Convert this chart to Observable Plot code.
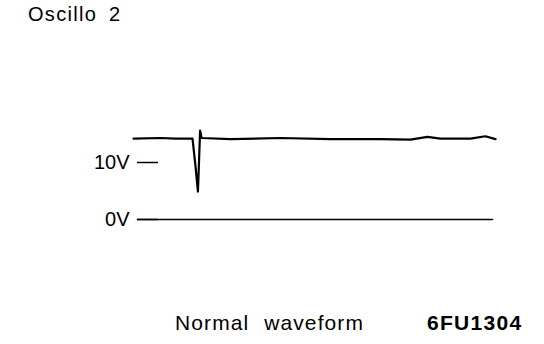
<!DOCTYPE html>
<html>
<head>
<meta charset="utf-8">
<script src="https://cdn.jsdelivr.net/npm/d3@7"></script>
<script src="https://cdn.jsdelivr.net/npm/@observablehq/plot@0.6"></script>
<style>
  html, body { margin: 0; padding: 0; background: #fff; }
  body { width: 544px; height: 344px; overflow: hidden; font-family: "Liberation Sans", Arial, sans-serif; color: #000; }
  #title { position: relative; height: 40px; }
  #title span { position: absolute; left: 28px; top: 3px; font-size: 20px; letter-spacing: 1.3px; word-spacing: 5px; white-space: pre; }
  #chart { height: 260px; }
  #chart svg { display: block; }
  #caption { position: relative; height: 44px; }
  #caption span { position: absolute; top: 11px; font-size: 21px; white-space: pre; }
  #cap1 { left: 175px; letter-spacing: 1.1px; word-spacing: 8px; }
  #cap2 { left: 427px; font-weight: 900; letter-spacing: 1.3px; }
</style>
</head>
<body>
<div id="title"><span>Oscillo 2</span></div>
<div id="chart"></div>
<div id="caption"><span id="cap1">Normal waveform</span><span id="cap2">6FU1304</span></div>
<script>
// Oscilloscope trace (time in arbitrary units 0–100, voltage in V)
const traceTime = [0, 7.5, 11.6, 16.3, 17.1, 17.8, 18.4, 18.8, 26.8, 40.6, 54.4, 68.2, 76.5, 81.2, 84.8, 93.1, 97.2, 100];
const traceVolt = [14.2, 14.3, 14.2, 14.2, 9.5, 4.9, 15.6, 14.3, 14.1, 14.3, 14.1, 14.1, 14.0, 14.5, 14.2, 14.2, 14.6, 14.1];

// 0 V reference line
const baseTime = [1.1, 99.2];
const baseVolt = [0, 0];

// Y tick values and labels
const yTicks = [0, 10];
const yTickLabels = ["0V", "10V"];

const trace = traceTime.map((t, i) => ({t, v: traceVolt[i]}));
const base = baseTime.map((t, i) => ({t, v: baseVolt[i]}));

const chart = Plot.plot({
  width: 544,
  height: 260,
  marginLeft: 158,
  marginRight: 49,
  marginTop: 0,
  marginBottom: 0,
  style: {fontFamily: "'Liberation Sans', Arial, sans-serif", fontSize: "20px", background: "#fff", color: "#000"},
  x: {domain: [0, 100], range: [133, 495], axis: null},
  y: {domain: [0, 10], range: [179, 122]},
  marks: [
    Plot.axisY({
      ticks: yTicks,
      tickFormat: (d) => yTickLabels[yTicks.indexOf(d)],
      tickSize: 21,
      tickPadding: 8,
      strokeWidth: 1.5,
      label: null,
      fontSize: 20
    }),
    Plot.line(base, {x: "t", y: "v", stroke: "#000", strokeWidth: 1.6}),
    Plot.line(trace, {x: "t", y: "v", stroke: "#000", strokeWidth: 2.2, curve: "linear", strokeLinejoin: "round"})
  ]
});
document.getElementById("chart").appendChild(chart);
</script>
</body>
</html>
